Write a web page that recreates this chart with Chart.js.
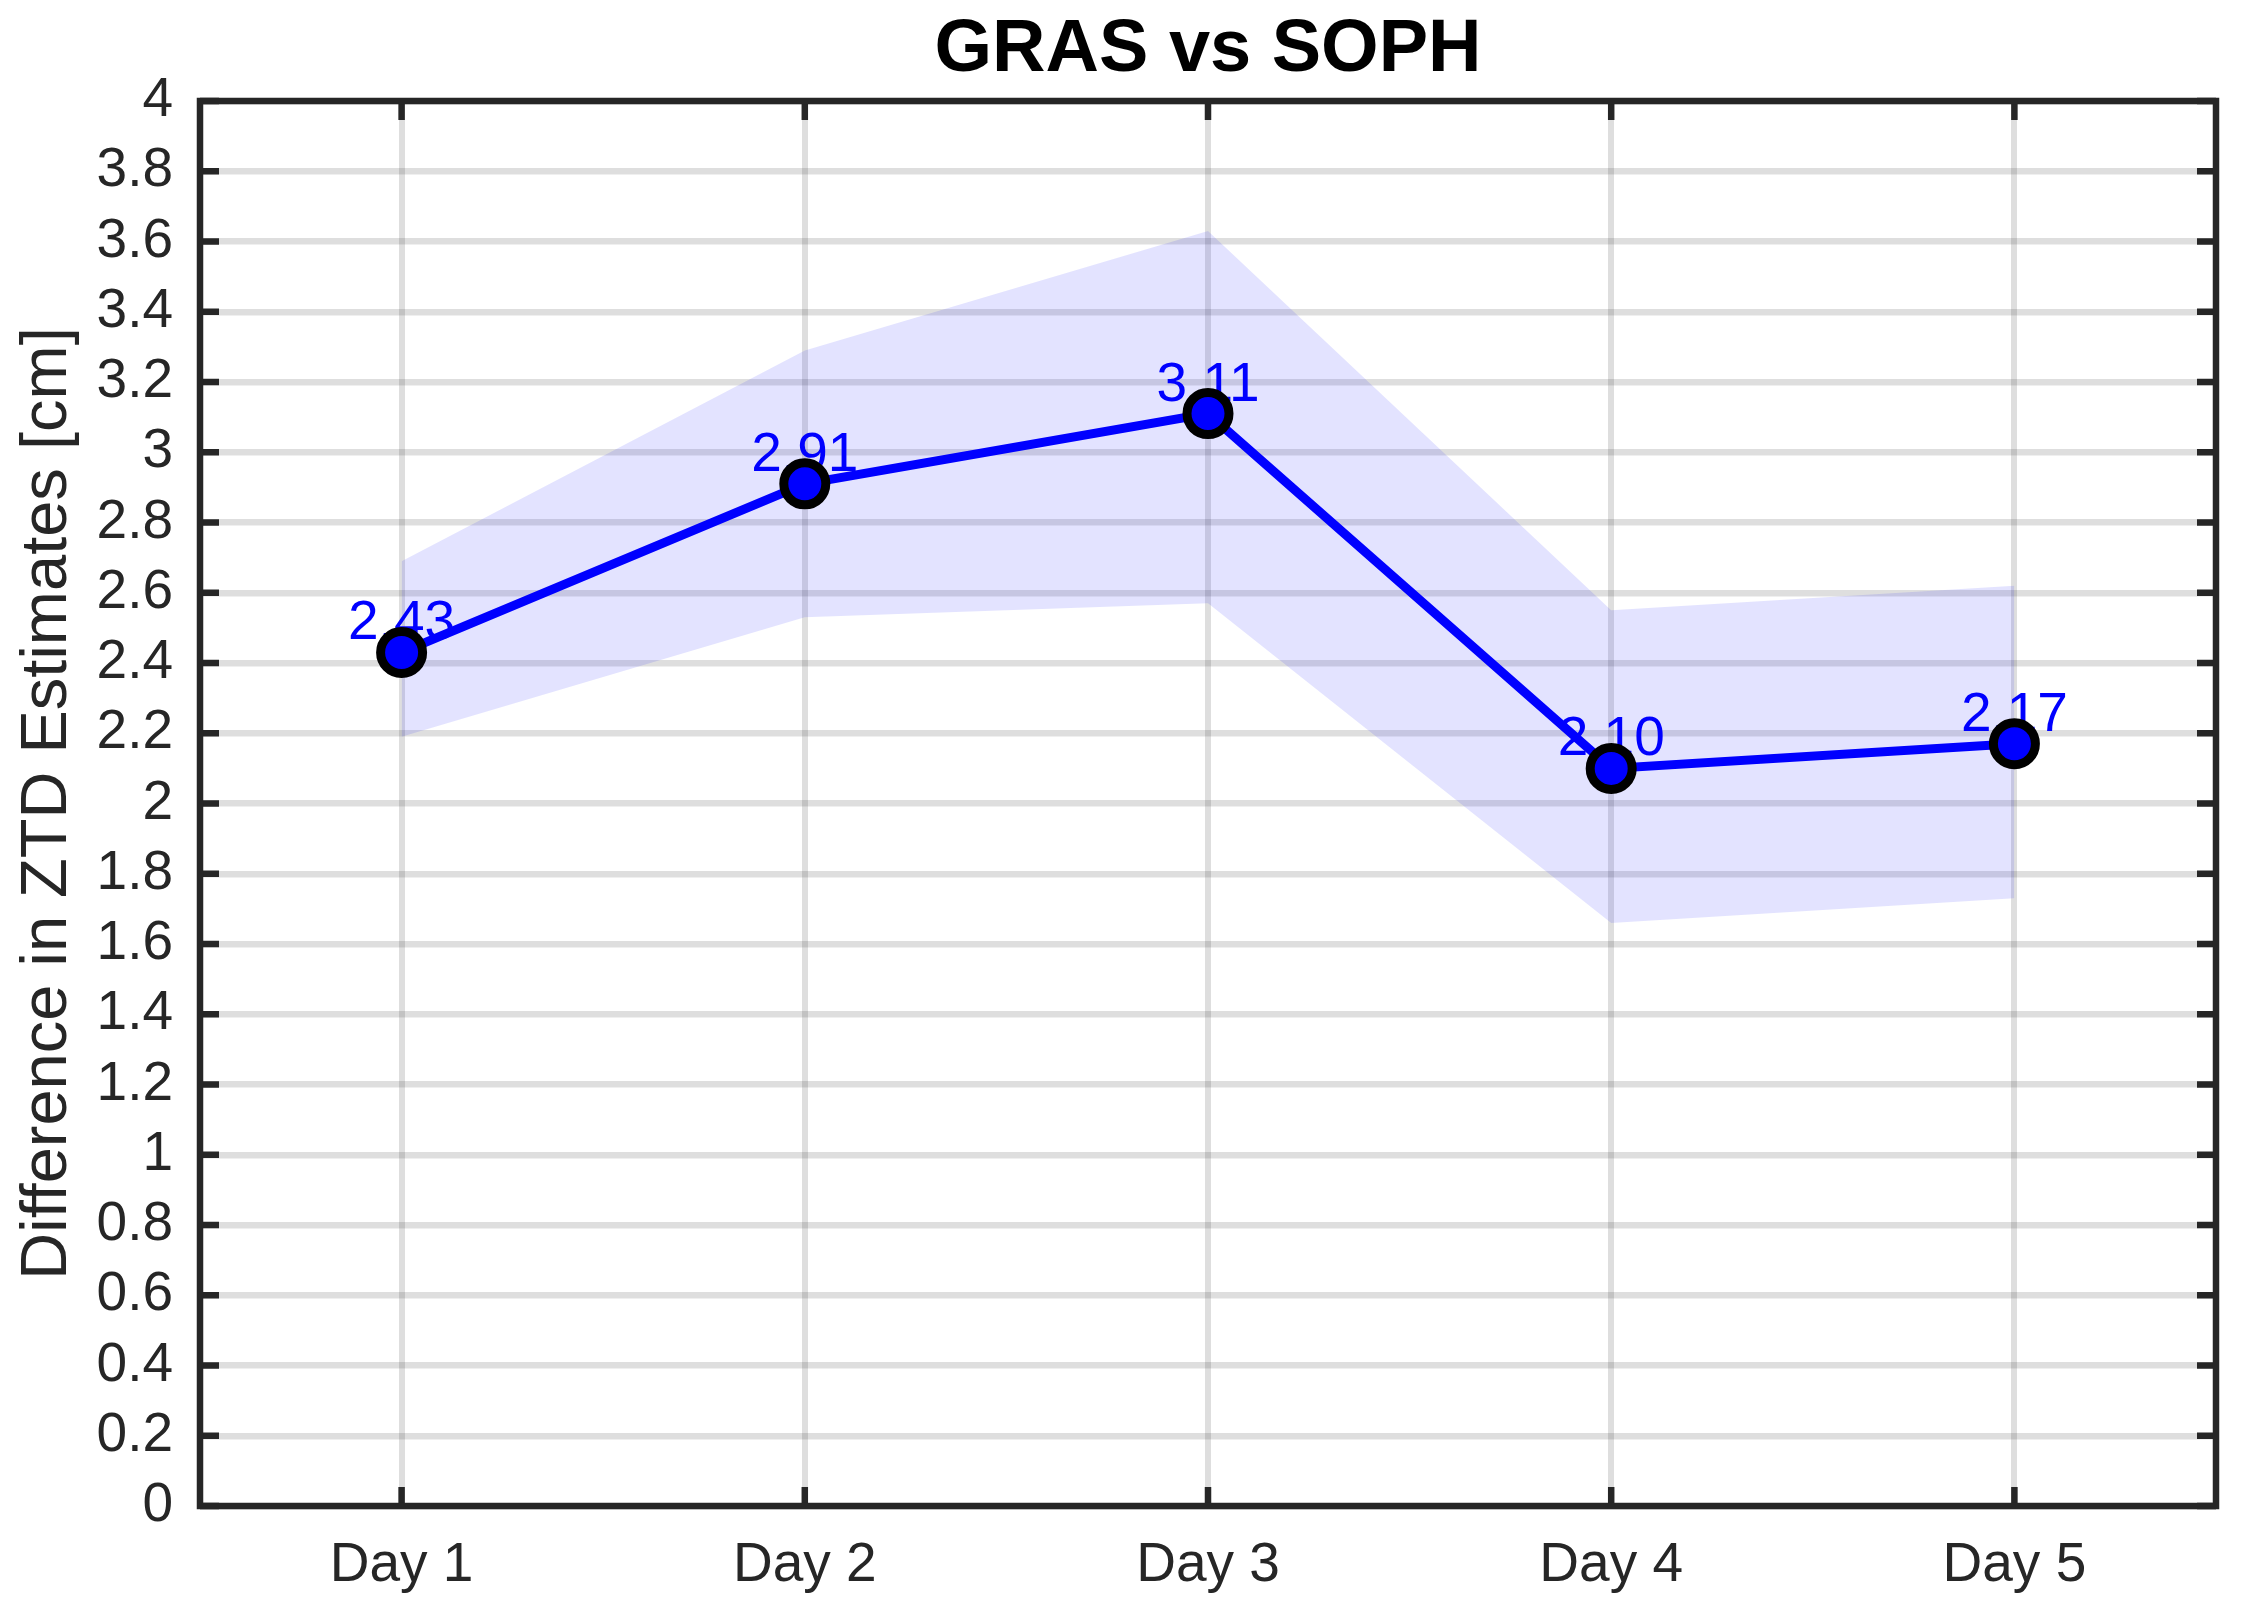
<!DOCTYPE html>
<html lang="en">

<head>
    <meta charset="UTF-8">
    <title>GRAS vs SOPH</title>
    <script src="https://cdn.jsdelivr.net/npm/chart.js@4/dist/chart.umd.min.js"></script>
    <style>
        html, body {
            margin: 0;
            padding: 0;
            overflow: hidden;
            background-color: #fff;
        }

        .chart-container {
            width: 2246px;
            height: 1603px;
        }

        canvas {
            display: block;
        }
    </style>
</head>

<body>
    <div class="chart-container">
        <canvas id="ztdChart" width="2246" height="1603"></canvas>
    </div>

    <script>
        // Values
        const days = ['Day 1', 'Day 2', 'Day 3', 'Day 4', 'Day 5'];
        const diffValues = [2.43, 2.91, 3.11, 2.10, 2.17];
        const bandUpper = [2.69, 3.29, 3.63, 2.55, 2.62];
        const bandLower = [2.19, 2.53, 2.57, 1.66, 1.73];

        const FONT = '"Liberation Sans", Arial, sans-serif';
        const AXIS_COLOR = '#262626';
        const GRID_COLOR = 'rgba(0, 0, 0, 0.13)';

        // MATLAB style box, inward ticks and the value labels
        const matlabAxes = {
            id: 'matlabAxes',
            beforeDatasetDraw(chart, args) {
                if (args.index !== 0) return;
                const ctx = chart.ctx;
                const meta = chart.getDatasetMeta(0);
                ctx.save();
                ctx.font = '55px ' + FONT;
                ctx.fillStyle = '#0000ff';
                ctx.textAlign = 'center';
                ctx.textBaseline = 'alphabetic';
                meta.data.forEach((pt, i) => {
                    ctx.fillText(diffValues[i].toFixed(2), pt.x, pt.y - 13);
                });
                ctx.restore();
            },
            afterDraw(chart) {
                const { ctx, chartArea: a, scales: { x, y } } = chart;
                ctx.save();
                ctx.fillStyle = AXIS_COLOR;
                y.ticks.forEach(t => {
                    const py = y.getPixelForValue(t.value);
                    ctx.fillRect(a.left, py - 3.25, 19, 6.5);
                    ctx.fillRect(a.right - 19, py - 3.25, 19, 6.5);
                });
                x.ticks.forEach((t, i) => {
                    const px = x.getPixelForTick(i);
                    ctx.fillRect(px - 3.25, a.bottom - 19, 6.5, 19);
                    ctx.fillRect(px - 3.25, a.top, 6.5, 19);
                });
                ctx.strokeStyle = AXIS_COLOR;
                ctx.lineWidth = 6.5;
                ctx.strokeRect(a.left, a.top, a.right - a.left, a.bottom - a.top);
                ctx.restore();
            }
        };

        const ctx = document.getElementById('ztdChart').getContext('2d');
        new Chart(ctx, {
            type: 'line',
            data: {
                labels: days,
                datasets: [{
                    label: 'Difference',
                    data: diffValues,
                    borderColor: '#0000ff',
                    borderWidth: 9,
                    pointRadius: 21,
                    pointBorderWidth: 9,
                    pointBackgroundColor: '#0000ff',
                    pointBorderColor: '#000000',
                    fill: false,
                    tension: 0
                }, {
                    label: 'Lower',
                    data: bandLower,
                    borderWidth: 0,
                    pointRadius: 0,
                    fill: false
                }, {
                    label: 'Upper',
                    data: bandUpper,
                    borderWidth: 0,
                    pointRadius: 0,
                    backgroundColor: 'rgba(0, 0, 255, 0.11)',
                    fill: 1
                }]
            },
            options: {
                responsive: false,
                devicePixelRatio: 1,
                animation: false,
                events: [],
                layout: {
                    padding: { left: 0, right: 22, top: 0, bottom: 0 }
                },
                plugins: {
                    legend: { display: false },
                    tooltip: { enabled: false },
                    title: {
                        display: true,
                        fullSize: false,
                        text: 'GRAS vs SOPH',
                        color: '#000',
                        font: { family: FONT, size: 74, weight: 'bold', lineHeight: 1 },
                        padding: { top: 14, bottom: 13 }
                    }
                },
                scales: {
                    x: {
                        offset: true,
                        grid: { offset: false, color: GRID_COLOR, lineWidth: 6, drawTicks: false },
                        border: { display: false },
                        ticks: {
                            color: AXIS_COLOR,
                            font: { family: FONT, size: 55 },
                            padding: 27,
                            maxRotation: 0
                        },
                        afterFit(scale) { scale.height = 97; }
                    },
                    y: {
                        min: 0,
                        max: 4,
                        grid: { color: GRID_COLOR, lineWidth: 6.5, drawTicks: false },
                        border: { display: false },
                        ticks: {
                            stepSize: 0.2,
                            autoSkip: false,
                            color: AXIS_COLOR,
                            font: { family: FONT, size: 55 },
                            padding: 27,
                            callback: v => String(Math.round(v * 10) / 10)
                        },
                        title: {
                            display: true,
                            text: 'Difference in ZTD Estimates [cm]',
                            color: AXIS_COLOR,
                            font: { family: FONT, size: 65 },
                            padding: { top: 9, bottom: 0 }
                        },
                        afterFit(scale) { scale.width = 200; }
                    }
                }
            },
            plugins: [matlabAxes]
        });
    </script>
</body>

</html>
